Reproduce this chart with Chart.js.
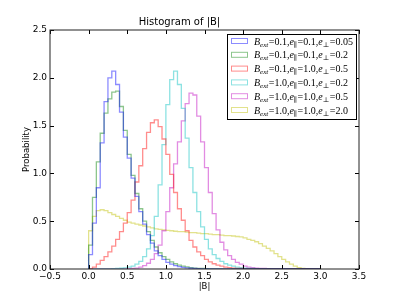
<!DOCTYPE html>
<html>
<head>
<meta charset="utf-8">
<script src="https://cdn.jsdelivr.net/npm/chart.js@4"></script>
<style>
  body { margin: 0; background: #fff; }
  #wrap { width: 399px; height: 299px; }
</style>
</head>
<body>
<div id="wrap"><canvas id="histChart" width="399" height="299"></canvas></div>
<script>
// left edges of the histogram bins (width 0.05), last value closes the final bin
const binEdges = [
  0.00, 0.05, 0.10, 0.15, 0.20, 0.25, 0.30, 0.35, 0.40, 0.45,
  0.50, 0.55, 0.60, 0.65, 0.70, 0.75, 0.80, 0.85, 0.90, 0.95,
  1.00, 1.05, 1.10, 1.15, 1.20, 1.25, 1.30, 1.35, 1.40, 1.45,
  1.50, 1.55, 1.60, 1.65, 1.70, 1.75, 1.80, 1.85, 1.90, 1.95,
  2.00, 2.05, 2.10, 2.15, 2.20, 2.25, 2.30, 2.35, 2.40, 2.45,
  2.50, 2.55, 2.60, 2.65, 2.70, 2.75, 2.80, 2.85, 2.90, 2.95, 3.00
];

// legend parameters
const bExt  = ['0.1', '0.1', '0.1', '1.0', '1.0', '1.0'];
const ePar  = ['0.1', '0.1', '1.0', '0.1', '1.0', '1.0'];
const ePerp = ['0.05', '0.2', '0.5', '0.2', '0.5', '2.0'];

const seriesColors = ['0,0,255', '0,128,0', '255,0,0', '0,191,191', '191,0,191', '191,191,0'];

// probability density per bin
const blueVals = [
  0.15, 0.48, 0.85, 1.32, 1.75, 2.00, 2.07, 1.93, 1.64, 1.38,
  1.16, 0.95, 0.76, 0.60, 0.47, 0.36, 0.27, 0.19, 0.14, 0.10,
  0.07, 0.05, 0.035, 0.025, 0.018, 0.012, 0.008, 0.005, 0.003, 0,
  0, 0, 0, 0, 0, 0, 0, 0, 0, 0,
  0, 0, 0, 0, 0, 0, 0, 0, 0, 0,
  0, 0, 0, 0, 0, 0, 0, 0, 0, 0
];
const greenVals = [
  0.25, 0.75, 1.12, 1.42, 1.63, 1.78, 1.85, 1.86, 1.70, 1.45,
  1.20, 0.98, 0.79, 0.63, 0.50, 0.39, 0.30, 0.23, 0.17, 0.13,
  0.10, 0.075, 0.055, 0.04, 0.03, 0.022, 0.015, 0.01, 0.007, 0.005,
  0.003, 0, 0, 0, 0, 0, 0, 0, 0, 0,
  0, 0, 0, 0, 0, 0, 0, 0, 0, 0,
  0, 0, 0, 0, 0, 0, 0, 0, 0, 0
];
const redVals = [
  0, 0.02, 0.05, 0.09, 0.13, 0.18, 0.24, 0.31, 0.39, 0.48,
  0.59, 0.72, 0.91, 1.08, 1.26, 1.43, 1.53, 1.56, 1.49, 1.36,
  1.20, 0.99, 0.80, 0.63, 0.51, 0.40, 0.30, 0.23, 0.18, 0.14,
  0.10, 0.075, 0.055, 0.04, 0.03, 0.02, 0.015, 0.01, 0.007, 0.005,
  0, 0, 0, 0, 0, 0, 0, 0, 0, 0,
  0, 0, 0, 0, 0, 0, 0, 0, 0, 0
];
const cyanVals = [
  0, 0, 0, 0, 0, 0, 0.003, 0.005, 0.008, 0.012,
  0.02, 0.03, 0.05, 0.08, 0.13, 0.21, 0.35, 0.55, 0.88, 1.30,
  1.72, 1.98, 2.07, 1.93, 1.68, 1.37, 1.06, 0.80, 0.60, 0.44,
  0.31, 0.21, 0.15, 0.11, 0.08, 0.055, 0.04, 0.03, 0.02, 0.015,
  0.01, 0.007, 0.005, 0.003, 0, 0, 0, 0, 0, 0,
  0, 0, 0, 0, 0, 0, 0, 0, 0, 0
];
const magentaVals = [
  0, 0, 0, 0, 0, 0, 0, 0, 0, 0,
  0.003, 0.005, 0.01, 0.02, 0.035, 0.06, 0.10, 0.16, 0.25, 0.40,
  0.60, 0.85, 1.10, 1.33, 1.55, 1.73, 1.84, 1.82, 1.60, 1.33,
  1.06, 0.80, 0.58, 0.41, 0.28, 0.20, 0.14, 0.10, 0.07, 0.05,
  0.03, 0.02, 0.015, 0.01, 0.007, 0.005, 0.003, 0, 0, 0,
  0, 0, 0, 0, 0, 0, 0, 0, 0, 0
];
const yellowVals = [
  0.40, 0.55, 0.61, 0.62, 0.61, 0.59, 0.57, 0.55, 0.53, 0.51,
  0.49, 0.48, 0.47, 0.46, 0.45, 0.44, 0.43, 0.42, 0.415, 0.41,
  0.405, 0.40, 0.395, 0.39, 0.39, 0.385, 0.38, 0.38, 0.375, 0.37,
  0.37, 0.365, 0.36, 0.36, 0.355, 0.35, 0.35, 0.345, 0.34, 0.335,
  0.325, 0.31, 0.30, 0.285, 0.265, 0.24, 0.215, 0.19, 0.16, 0.13,
  0.10, 0.075, 0.05, 0.03, 0.015, 0.007, 0.003, 0, 0, 0
];

const allSeries = [blueVals, greenVals, redVals, cyanVals, magentaVals, yellowVals];

const xTicks = [-0.5, 0, 0.5, 1, 1.5, 2, 2.5, 3, 3.5];
const yTicks = [0, 0.5, 1, 1.5, 2, 2.5];

function fmt(v) {
  return v.toFixed(1).replace('-', '\u2212');
}

// turn bin values into step points: baseline at the first edge, one point per bin, close at last edge
function toSteps(vals) {
  const pts = [{ x: binEdges[0], y: 0 }];
  vals.forEach((v, i) => pts.push({ x: binEdges[i], y: v }));
  pts.push({ x: binEdges[binEdges.length - 1], y: 0 });
  return pts;
}

const datasets = allSeries.map((vals, i) => ({
  label: 'B_ext=' + bExt[i] + ',e_par=' + ePar[i] + ',e_perp=' + ePerp[i],
  data: toSteps(vals),
  stepped: true,
  borderColor: 'rgba(' + seriesColors[i] + ',0.45)',
  borderWidth: 1.3,
  pointRadius: 0,
  fill: false
}));

// frame and inward ticks on all four sides, like matplotlib
const framePlugin = {
  id: 'frame',
  afterDatasetsDraw(chart) {
    const { ctx, chartArea: a, scales } = chart;
    ctx.save();
    ctx.strokeStyle = '#000';
    ctx.lineWidth = 1;
    xTicks.forEach(t => {
      const px = Math.round(scales.x.getPixelForValue(t)) + 0.5;
      ctx.beginPath();
      ctx.moveTo(px, a.bottom); ctx.lineTo(px, a.bottom - 4);
      ctx.moveTo(px, a.top); ctx.lineTo(px, a.top + 4);
      ctx.stroke();
    });
    yTicks.forEach(t => {
      const py = Math.round(scales.y.getPixelForValue(t)) + 0.5;
      ctx.beginPath();
      ctx.moveTo(a.left, py); ctx.lineTo(a.left + 4, py);
      ctx.moveTo(a.right, py); ctx.lineTo(a.right - 4, py);
      ctx.stroke();
    });
    ctx.strokeStyle = '#222';
    ctx.strokeRect(a.left, a.top, a.right - a.left, a.bottom - a.top);
    ctx.restore();
  }
};

// legend with subscripted math-style labels
const legendPlugin = {
  id: 'mathLegend',
  afterDraw(chart) {
    const { ctx, chartArea: a } = chart;
    const boxL = a.right - 132, boxT = a.top + 4, boxW = 129, boxH = 85;
    ctx.save();
    ctx.fillStyle = '#fff';
    ctx.fillRect(boxL, boxT, boxW, boxH);
    ctx.strokeStyle = '#000';
    ctx.lineWidth = 1;
    ctx.strokeRect(boxL + 0.5, boxT + 0.5, boxW, boxH);

    const big = '10px "Liberation Serif"';
    const bigIt = 'italic 10px "Liberation Serif"';
    const sub = 'italic 7px "Liberation Serif"';
    const subUp = '7px "DejaVu Serif"';
    ctx.textBaseline = 'alphabetic';

    const piece = (txt, font, x, y) => {
      ctx.font = font;
      ctx.fillText(txt, x, y);
      return x + ctx.measureText(txt).width;
    };

    bExt.forEach((b, i) => {
      const cy = boxT + 7 + i * 13.8;
      ctx.strokeStyle = 'rgba(' + seriesColors[i] + ',0.45)';
      ctx.lineWidth = 1;
      ctx.strokeRect(boxL + 4.5, cy - 2.5, 16, 5);

      ctx.fillStyle = '#000';
      const base = cy + 3.5;
      let x = boxL + 27;
      x = piece('B', bigIt, x, base);
      x = piece('ext', sub, x, base + 2);
      x = piece('=' + b + ',', big, x + 0.5, base);
      x = piece('e', bigIt, x, base);
      x = piece('\u2225', subUp, x, base + 2);
      x = piece('=' + ePar[i] + ',', big, x + 0.5, base);
      x = piece('e', bigIt, x, base);
      x = piece('\u22A5', subUp, x, base + 2);
      piece('=' + ePerp[i], big, x + 0.5, base);
    });
    ctx.restore();
  }
};

const ctx = document.getElementById('histChart').getContext('2d');

new Chart(ctx, {
  type: 'line',
  data: { datasets },
  options: {
    responsive: false,
    animation: false,
    layout: { padding: { left: 0, right: 40, top: 0, bottom: 0 } },
    plugins: {
      legend: { display: false },
      tooltip: { enabled: false },
      title: {
        display: true,
        text: 'Histogram of |B|',
        color: '#000',
        font: { family: 'DejaVu Sans', size: 10, weight: 'normal' },
        padding: { top: 16, bottom: 2 }
      }
    },
    scales: {
      x: {
        type: 'linear',
        min: -0.5,
        max: 3.5,
        afterFit: s => { s.height = 30; },
        afterBuildTicks: s => { s.ticks = xTicks.map(v => ({ value: v })); },
        grid: { display: false, drawTicks: false },
        border: { display: false },
        ticks: {
          color: '#000',
          padding: 2,
          maxRotation: 0,
          font: { family: 'DejaVu Sans', size: 9 },
          callback: v => fmt(v)
        },
        title: {
          display: true,
          text: '|B|',
          color: '#000',
          font: { family: 'DejaVu Sans', size: 8.5 },
          padding: { top: 0, bottom: 7 }
        }
      },
      y: {
        type: 'linear',
        min: 0,
        max: 2.5,
        afterFit: s => { s.width = 50; },
        afterBuildTicks: s => { s.ticks = yTicks.map(v => ({ value: v })); },
        grid: { display: false, drawTicks: false },
        border: { display: false },
        ticks: {
          color: '#000',
          padding: 3,
          font: { family: 'DejaVu Sans', size: 9 },
          callback: v => fmt(v)
        },
        title: {
          display: true,
          text: 'Probability',
          color: '#000',
          font: { family: 'DejaVu Sans', size: 8.5 },
          padding: { top: 21.5, bottom: 0 }
        }
      }
    }
  },
  plugins: [framePlugin, legendPlugin]
});
</script>
</body>
</html>
